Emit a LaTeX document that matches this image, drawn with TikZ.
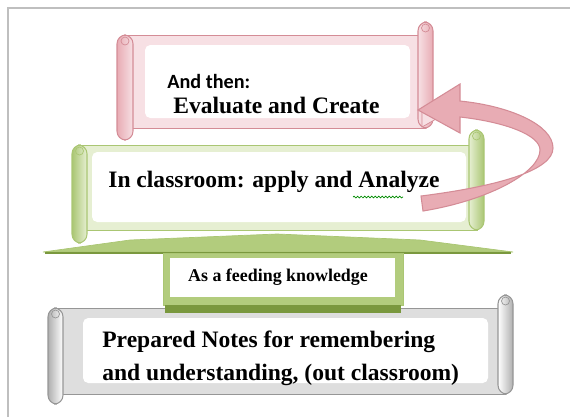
\documentclass[tikz,border=0pt]{standalone}
\usepackage{fontspec}
\setmainfont{Liberation Serif}
\newfontfamily\califont{Carlito}
\usetikzlibrary{decorations.pathmorphing}
\definecolor{pinkedge}{RGB}{212,140,150}
\definecolor{pinkmid}{RGB}{232,172,180}
\definecolor{pinklight}{RGB}{247,224,228}
\definecolor{greenedge}{RGB}{170,198,115}
\definecolor{greenmid}{RGB}{178,204,125}
\definecolor{greendark}{RGB}{122,152,62}
\definecolor{greenlight}{RGB}{230,239,210}
\definecolor{grayedge}{RGB}{150,150,150}
\definecolor{graydark}{RGB}{175,175,175}
\definecolor{graylight}{RGB}{222,222,222}
\begin{document}
\begin{tikzpicture}[x=0.02cm, y=-0.02cm,
  font=\bfseries\fontsize{13.4}{18.7}\selectfont,
  roll/.style={rounded corners=5pt, line width=0.6pt},
  txt/.style={inner sep=0pt}]
\useasboundingbox (0,0) rectangle (570,417);
\draw[gray!50, line width=1pt] (8,417) -- (8,8) -- (570,8); % frame

% bottom scroll (gray)
\filldraw[draw=grayedge, fill=graylight] (55,308) rectangle (505,394);
\fill[white, rounded corners=3pt] (83,318) rectangle (488,383);
\draw[roll, draw=grayedge, left color=graydark, right color=white] (48,308) rectangle (63,404);
\draw[roll, draw=grayedge, left color=white, right color=graydark] (498,295) rectangle (513,394);
\draw[grayedge] (55.5,314) circle (4);
\draw[grayedge] (505.5,301) circle (4);

% feeding arrow (green)
\filldraw[draw=greenedge, fill=greenmid] (43,252) -- (130,240) -- (277,234) -- (420,240) -- (513,252) -- cycle;
\draw[greendark, line width=1.2pt] (45,253) -- (511,253);
\filldraw[draw=greenedge, fill=greenmid] (163,253) rectangle (403,305);
\fill[white] (170,258) rectangle (395,297);
\fill[greendark] (165,305) rectangle (401,313);

% middle scroll (green)
\filldraw[draw=greenedge, fill=greenlight] (79,145) rectangle (477,230);
\fill[white, rounded corners=3pt] (92,152) rectangle (466,222);
\draw[roll, draw=greenedge, left color=greenedge, right color=greenlight] (72,145) rectangle (87,243);
\draw[roll, draw=greenedge, left color=greenlight, right color=greenedge] (469,130) rectangle (484,230);
\draw[greenedge] (79.5,151) circle (4);
\draw[greenedge] (476.5,136) circle (4);

% top scroll (pink)
\filldraw[draw=pinkedge, fill=pinklight] (125,35) rectangle (425,128);
\fill[white, rounded corners=3pt] (145,45) rectangle (410,118);
\draw[roll, draw=pinkedge, left color=pinkmid, right color=pinklight] (117,35) rectangle (133,140);
\draw[roll, draw=pinkedge, left color=pinklight, right color=pinkmid] (418,22) rectangle (433,128);
\draw[pinkedge] (125,41) circle (4);
\draw[pinkedge] (425.5,28) circle (4);
\filldraw[draw=pinkedge, fill=pinklight] (422,110) -- (436,119) -- (422,127) -- cycle;

% texts
\node[txt, anchor=west, font=\califont\bfseries\fontsize{11.5}{14}\selectfont] (v0) at (167,81) {And then:};
\node[txt, anchor=west] (v1) at (173,105) {Evaluate and Create};
\node[txt, anchor=west] (v2) at (108,182) {In classroom: apply and Analyze};
\node[txt, font=\bfseries\fontsize{10.2}{12}\selectfont] (v3) at (278,277) {As a feeding knowledge};
\node[txt, anchor=west, align=left] (v4) at (102,358) {Prepared Notes for remembering\\and understanding, (out classroom)};
\draw[green!55!black, line width=0.4pt, decorate,
  decoration={snake, amplitude=0.5pt, segment length=2pt}] (353,197) -- (403,197);

% curved arrow back up
\filldraw[draw=pinkedge, fill=pinkmid, line width=0.6pt]
  (421,196) .. controls (500,186) and (553,170) .. (553,148)
  .. controls (553,125) and (510,106) .. (460,101)
  -- (460,84) -- (418,110) -- (460,133) -- (460,117)
  .. controls (505,122) and (540,135) .. (540,150)
  .. controls (540,172) and (490,200) .. (423,211) -- cycle;
\end{tikzpicture}
\end{document}
